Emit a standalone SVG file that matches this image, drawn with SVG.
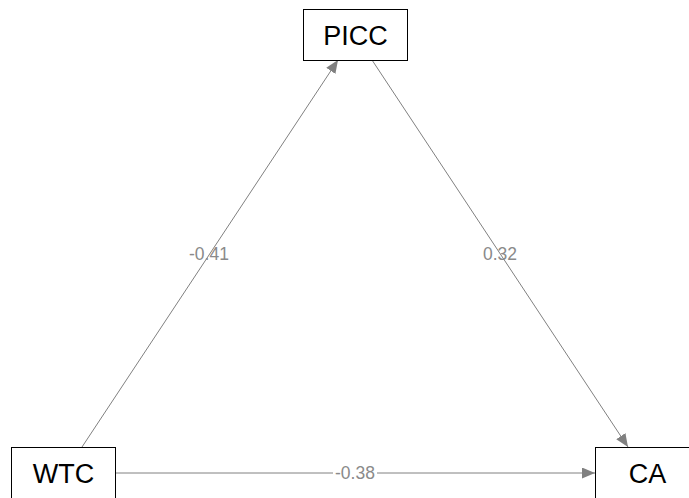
<svg xmlns="http://www.w3.org/2000/svg" width="689" height="498" viewBox="0 0 689 498">
<style>
.node rect{fill:#fff;stroke:#000;stroke-width:1}
.node text{font-family:"Liberation Sans",Arial,sans-serif;font-size:27px;fill:#000;text-anchor:middle;dominant-baseline:central}
.edge line{stroke:#808080;stroke-width:1}
.lbl{font-family:"Liberation Sans",Arial,sans-serif;font-size:17.5px;fill:#8a8a8a;text-anchor:middle;dominant-baseline:central}
</style>
<defs>
<marker id="ah" viewBox="0 0 13 11" refX="13" refY="5.5" markerWidth="13" markerHeight="11" markerUnits="userSpaceOnUse" orient="auto">
<path d="M0,0 L13,5.5 L0,11 z" fill="#808080"/>
</marker>
</defs>
<rect width="689" height="498" fill="#fff"/>
<g id="connectors" class="edge">
<line x1="82" y1="447" x2="338" y2="60" marker-end="url(#ah)"/>
<text class="lbl" x="209" y="254">-0.41</text>
<line x1="372" y1="60" x2="628" y2="447" marker-end="url(#ah)"/>
<text class="lbl" x="500" y="254">0.32</text>
<line x1="115" y1="473" x2="595" y2="473" marker-end="url(#ah)"/>
<rect x="333" y="463" width="44" height="20" fill="#fff"/>
<text class="lbl" x="355" y="473">-0.38</text>
</g>
<g id="PICC" class="node">
<rect x="303.5" y="9.5" width="104" height="51"/>
<text x="355.5" y="36">PICC</text>
</g>
<g id="WTC" class="node">
<rect x="11.5" y="447.5" width="104" height="51"/>
<text x="63.5" y="474">WTC</text>
</g>
<g id="CA" class="node">
<rect x="595.5" y="447.5" width="104" height="51"/>
<text x="647.5" y="474">CA</text>
</g>
</svg>
